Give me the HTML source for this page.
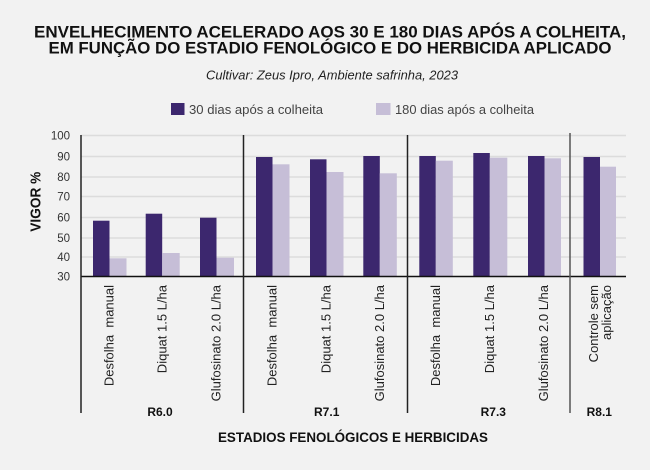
<!DOCTYPE html>
<html><head><meta charset="utf-8"><style>
html,body{margin:0;padding:0;background:#f2f2f2;}
svg{display:block;}
text{font-family:"Liberation Sans",sans-serif;}
</style></head><body>
<svg width="650" height="470" viewBox="0 0 650 470" xmlns="http://www.w3.org/2000/svg">
<rect width="650" height="470" fill="#f2f2f2"/>
<!-- Title -->
<text x="330" y="37.5" text-anchor="middle" font-size="17" font-weight="bold" fill="#111" textLength="592" lengthAdjust="spacingAndGlyphs">ENVELHECIMENTO ACELERADO AOS 30 E 180 DIAS APÓS A COLHEITA,</text>
<text x="330" y="53.5" text-anchor="middle" font-size="17" font-weight="bold" fill="#111" textLength="563" lengthAdjust="spacingAndGlyphs">EM FUNÇÃO DO ESTADIO FENOLÓGICO E DO HERBICIDA APLICADO</text>
<text x="332" y="79.5" text-anchor="middle" font-size="12.5" font-style="italic" fill="#222" textLength="252" lengthAdjust="spacingAndGlyphs">Cultivar: Zeus Ipro, Ambiente safrinha, 2023</text>
<!-- Legend -->
<rect x="171" y="103" width="13.5" height="12" fill="#3c276e"/>
<text x="189" y="114" font-size="12.5" fill="#444" textLength="134" lengthAdjust="spacingAndGlyphs">30 dias após a colheita</text>
<rect x="376" y="103" width="14.5" height="12" fill="#c6bed7"/>
<text x="395" y="114" font-size="12.5" fill="#444" textLength="139" lengthAdjust="spacingAndGlyphs">180 dias após a colheita</text>
<!-- Gridlines -->
<g stroke="#dcdcdc" stroke-width="1.5">
<line x1="81" x2="626" y1="135.5" y2="135.5"/>
<line x1="81" x2="626" y1="156.5" y2="156.5"/>
<line x1="81" x2="626" y1="177" y2="177"/>
<line x1="81" x2="626" y1="196.5" y2="196.5"/>
<line x1="81" x2="626" y1="217.5" y2="217.5"/>
<line x1="81" x2="626" y1="238" y2="238"/>
<line x1="81" x2="626" y1="257" y2="257"/>
</g>
<!-- Tick labels -->
<g font-size="11.5" fill="#333" text-anchor="end">
<text x="70" y="139.5">100</text>
<text x="70" y="160.5">90</text>
<text x="70" y="181">80</text>
<text x="70" y="200.5">70</text>
<text x="70" y="221.5">60</text>
<text x="70" y="242">50</text>
<text x="70" y="261">40</text>
<text x="70" y="280.5">30</text>
</g>
<text transform="translate(40.5,201.7) rotate(-90)" text-anchor="middle" font-size="14.5" font-weight="bold" fill="#111" textLength="60" lengthAdjust="spacingAndGlyphs">VIGOR %</text>
<!-- Bars -->
<g fill="#3c276e">
<rect x="93" y="220.7" width="16.5" height="55.8"/>
<rect x="145.7" y="213.7" width="16.5" height="62.8"/>
<rect x="200" y="217.7" width="16.5" height="58.8"/>
<rect x="256" y="157" width="16.5" height="119.5"/>
<rect x="310" y="159.3" width="16.5" height="117.2"/>
<rect x="363.3" y="156" width="16.5" height="120.5"/>
<rect x="419.3" y="156" width="16.5" height="120.5"/>
<rect x="473.3" y="153" width="16.5" height="123.5"/>
<rect x="528" y="156" width="16.5" height="120.5"/>
<rect x="583.5" y="157" width="16.5" height="119.5"/>
</g>
<g fill="#c6bed7">
<rect x="109.5" y="258.3" width="17" height="18.2"/>
<rect x="162.2" y="253" width="17.5" height="23.5"/>
<rect x="216.5" y="257.7" width="17.5" height="18.8"/>
<rect x="272.5" y="164.3" width="17" height="112.2"/>
<rect x="326.5" y="172" width="17" height="104.5"/>
<rect x="379.8" y="173.3" width="17" height="103.2"/>
<rect x="435.8" y="160.7" width="17" height="115.8"/>
<rect x="489.8" y="157.7" width="17.5" height="118.8"/>
<rect x="544.5" y="158.3" width="16.5" height="118.2"/>
<rect x="600" y="166.7" width="16" height="109.8"/>
</g>
<!-- Axes and separators -->
<line x1="81" x2="626" y1="276.5" y2="276.5" stroke="#111" stroke-width="1.5"/>
<line x1="81" x2="81" y1="135" y2="413" stroke="#222" stroke-width="1.5"/>
<line x1="243.5" x2="243.5" y1="135" y2="413" stroke="#222" stroke-width="1.5"/>
<line x1="407.5" x2="407.5" y1="135" y2="413" stroke="#222" stroke-width="1.5"/>
<line x1="570" x2="570" y1="133" y2="413" stroke="#555" stroke-width="1.5"/>
<!-- Category labels -->
<g font-size="13" fill="#222" text-anchor="end">
<text transform="translate(113.5,285) rotate(-90)" xml:space="preserve">Desfolha  manual</text>
<text transform="translate(166.5,285) rotate(-90)">Diquat 1.5 L/ha</text>
<text transform="translate(220.5,285) rotate(-90)">Glufosinato 2.0 L/ha</text>
<text transform="translate(276.5,285) rotate(-90)" xml:space="preserve">Desfolha  manual</text>
<text transform="translate(330.5,285) rotate(-90)">Diquat 1.5 L/ha</text>
<text transform="translate(384,285) rotate(-90)">Glufosinato 2.0 L/ha</text>
<text transform="translate(440,285) rotate(-90)" xml:space="preserve">Desfolha  manual</text>
<text transform="translate(494,285) rotate(-90)">Diquat 1.5 L/ha</text>
<text transform="translate(548,285) rotate(-90)">Glufosinato 2.0 L/ha</text>
<text transform="translate(598,285) rotate(-90)">Controle sem</text>
<text transform="translate(611,285) rotate(-90)">aplicação</text>
</g>
<!-- Group labels -->
<g font-size="12" font-weight="bold" fill="#111" text-anchor="middle">
<text x="160" y="416">R6.0</text>
<text x="326.7" y="416">R7.1</text>
<text x="493.3" y="416">R7.3</text>
<text x="599.3" y="416">R8.1</text>
</g>
<text x="353" y="442" text-anchor="middle" font-size="13.5" font-weight="bold" fill="#111" textLength="270" lengthAdjust="spacingAndGlyphs">ESTADIOS FENOLÓGICOS E HERBICIDAS</text>
</svg>
</body></html>
